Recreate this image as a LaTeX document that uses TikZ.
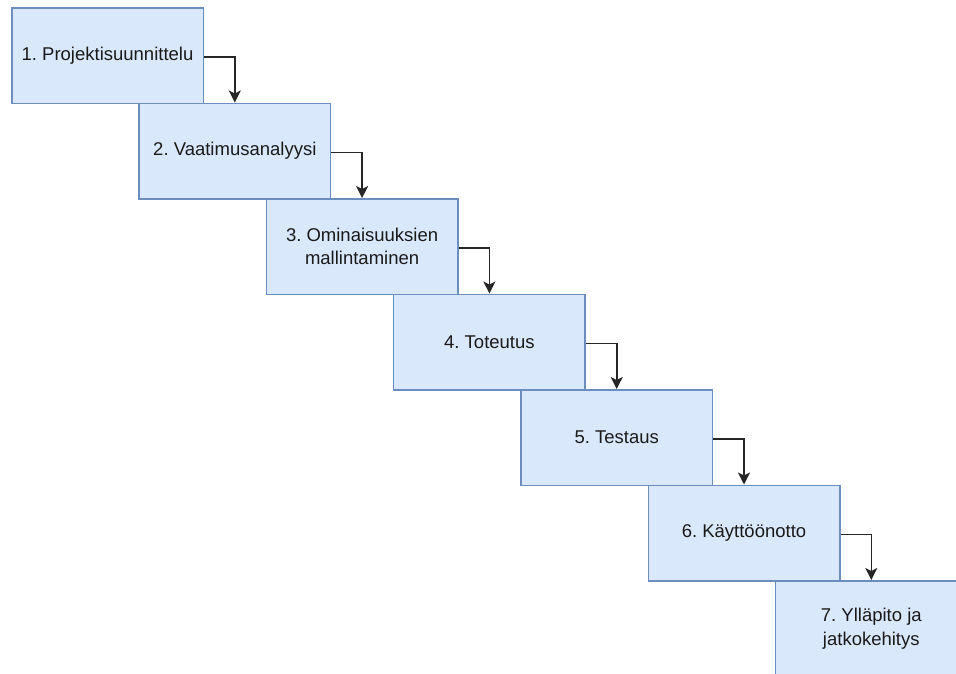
\documentclass[tikz,border=0pt]{standalone}
\usepackage{fontspec}
\setmainfont{Liberation Sans}
\frenchspacing
\usetikzlibrary{arrows.meta}
\definecolor{boxfill}{HTML}{DAE8FC}
\definecolor{boxline}{HTML}{6C8EBF}
\definecolor{txt}{HTML}{1A1A1A}
\tikzset{
  phase/.style={draw=boxline, fill=boxfill, line width=1.5pt, anchor=north west,
    minimum width=191.5pt, minimum height=95.5pt, inner sep=4pt, align=center,
    text=txt, font=\fontsize{18.5}{23.5}\selectfont},
  conn/.style={draw=black!85, line width=1.6pt,
    -{Stealth[length=12pt,width=12pt,inset=3pt]}}
}
\begin{document}
\begin{tikzpicture}[x=1pt,y=-1pt]
\useasboundingbox (0,0) rectangle (956,673);
\clip (0,0) rectangle (956,673);
\node[phase] (b1) at (11,7) {1. Projektisuunnittelu};
\node[phase] (b2) at (138.3,102.5) {2. Vaatimusanalyysi};
\node[phase] (b3) at (265.6,198) {3. Ominaisuuksien\\mallintaminen};
\node[phase] (b4) at (392.9,293.5) {4. Toteutus};
\node[phase] (b5) at (520.2,389) {5. Testaus};
\node[phase] (b6) at (647.5,484.5) {6. Käyttöönotto};
\node[phase] (b7) at (774.8,580) {7. Ylläpito ja\\jatkokehitys};
\foreach \a/\b in {b1/b2,b2/b3,b3/b4,b4/b5,b5/b6,b6/b7}
  \draw[conn] ([yshift=-1.5pt]\a.east) -| (\b.north);
\end{tikzpicture}
\end{document}
